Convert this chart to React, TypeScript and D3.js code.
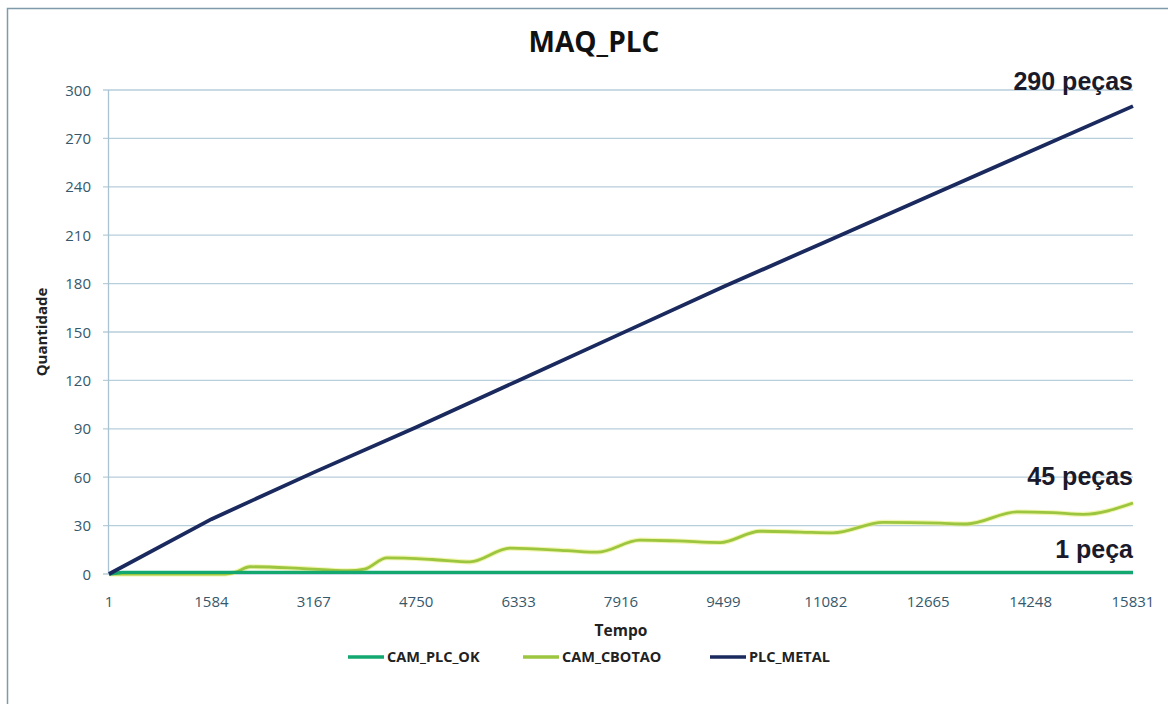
import React, { useEffect } from "react";
import * as d3 from "d3";

const xTicks = [1, 1584, 3167, 4750, 6333, 7916, 9499, 11082, 12665, 14248, 15831];
const yTicks = [0, 30, 60, 90, 120, 150, 180, 210, 240, 270, 300];

// PLC_METAL (read at each tick)
const metalT = [1, 1584, 3167, 4750, 6333, 7916, 9499, 11082, 12665, 14248, 15831];
const metalV = [0, 34, 63, 91, 120, 149, 178, 206, 234, 262, 290];

// CAM_CBOTAO
const cbotaoT = [1, 1800, 1950, 2180, 2950, 3700, 3950, 4300, 5000, 5580, 6200, 7080, 7550, 8210, 8780, 9450, 10065, 10680, 11190, 11970, 12850, 13260, 14040, 14590, 15060, 15831];
const cbotaoV = [0, 0, 1, 4.5, 3.5, 2, 3, 10, 9, 7.5, 16, 14.5, 13.5, 21, 20.5, 19.5, 26.5, 26, 25.5, 32, 31.5, 31, 38.5, 38, 37, 44];

// CAM_PLC_OK
const okT = [1, 200, 15831];
const okV = [0, 1, 1];

const seriesNames = ["CAM_PLC_OK", "CAM_CBOTAO", "PLC_METAL"];
const seriesColors = ["#12a870", "#9cc63f", "#1b2a5e"];

const annotations = ["290 peças", "45 peças", "1 peça"];
const annotationValues = [290, 45, 1];

export default function App() {
  useEffect(() => {
    document.body.style.margin = "0";
  }, []);
  const W = 1168, H = 704;
  const x = d3.scaleLinear().domain([1, 15831]).range([109, 1133]);
  const y = d3.scaleLinear().domain([0, 300]).range([574, 90]);
  const mk = (T: number[], V: number[], curve: any) =>
    d3.line<number>().x((_, i) => x(T[i])).y((v) => y(v)).curve(curve)(V) || "";
  const metalPath = mk(metalT, metalV, d3.curveLinear);
  const cbPath = mk(cbotaoT, cbotaoV, d3.curveMonotoneX);
  const okPath = mk(okT, okV, d3.curveLinear);
  const tickFont = "'Open Sans', 'DejaVu Sans', sans-serif";
  const labelColor = "#36586b";
  const annY = [90, 485, 558];
  const legendX = [348, 523, 710];
  return (
    <svg width={W} height={H} style={{ display: "block", background: "#fff" }}>
      <rect x={7.5} y={8.5} width={W} height={H} fill="#fff" stroke="#7f9aa9" strokeWidth={1.5} />
      <text x={594} y={52} textAnchor="middle" fontFamily={tickFont} fontWeight="bold" fontSize={28} fill="#111">MAQ_PLC</text>
      {yTicks.map((t) => (
        <g key={t}>
          <line x1={103} x2={1133} y1={y(t)} y2={y(t)} stroke="#b7cedc" strokeWidth={1.3} />
          <text x={91} y={y(t) + 5.5} textAnchor="end" fontFamily={tickFont} fontSize={15} fill={labelColor}>{t}</text>
        </g>
      ))}
      <line x1={108.5} x2={108.5} y1={90} y2={574} stroke="#a9c3d3" strokeWidth={1.3} />
      {xTicks.map((t) => (
        <text key={t} x={x(t)} y={607} textAnchor="middle" fontFamily={tickFont} fontSize={15} fill={labelColor}>{t}</text>
      ))}
      <text x={621} y={636} textAnchor="middle" fontFamily={tickFont} fontWeight="bold" fontSize={15.5} fill="#222">Tempo</text>
      <text transform={`translate(47,332) rotate(-90)`} textAnchor="middle" fontFamily={tickFont} fontWeight="bold" fontSize={15} fill="#222">Quantidade</text>
      <path d={cbPath} fill="none" stroke="#e8ef7a" strokeWidth={5} strokeOpacity={0.6} />
      <path d={cbPath} fill="none" stroke={seriesColors[1]} strokeWidth={2.8} />
      <path d={okPath} fill="none" stroke={seriesColors[0]} strokeWidth={3.4} />
      <path d={metalPath} fill="none" stroke={seriesColors[2]} strokeWidth={3.8} />
      {annotations.map((a, i) => (
        <text key={a} x={1133} y={annY[i]} textAnchor="end" fontFamily="'Liberation Sans', Arial, sans-serif" fontWeight="bold" fontSize={25} fill="#1a1a2a" data-v={annotationValues[i]}>{a}</text>
      ))}
      {seriesNames.map((n, i) => (
        <g key={n}>
          <line x1={legendX[i]} x2={legendX[i] + 36} y1={657} y2={657} stroke={seriesColors[i]} strokeWidth={3.5} />
          <text x={legendX[i] + 39} y={662} fontFamily={tickFont} fontWeight="bold" fontSize={14.5} fill="#222">{n}</text>
        </g>
      ))}
    </svg>
  );
}
